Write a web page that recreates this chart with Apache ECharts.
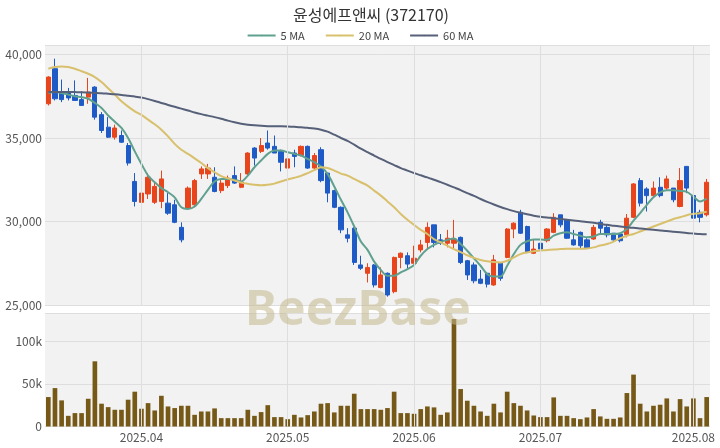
<!DOCTYPE html>
<html><head><meta charset="utf-8">
<script src="https://cdn.jsdelivr.net/npm/echarts@6/dist/echarts.min.js"></script>
<style>html,body{margin:0;padding:0;background:#fff}#c{width:720px;height:448px}</style>
</head><body><div id="c"></div>
<script>
const dates = [
'2025-03-12','2025-03-13','2025-03-14','2025-03-17','2025-03-18','2025-03-19','2025-03-20','2025-03-21','2025-03-24','2025-03-25','2025-03-26','2025-03-27','2025-03-28','2025-03-31',
'2025-04-01','2025-04-02','2025-04-03','2025-04-04','2025-04-07','2025-04-08','2025-04-09','2025-04-10','2025-04-11','2025-04-14','2025-04-15','2025-04-16','2025-04-17','2025-04-18','2025-04-21','2025-04-22','2025-04-23','2025-04-24','2025-04-25','2025-04-28','2025-04-29','2025-04-30',
'2025-05-02','2025-05-07','2025-05-08','2025-05-09','2025-05-12','2025-05-13','2025-05-14','2025-05-15','2025-05-16','2025-05-19','2025-05-20','2025-05-21','2025-05-22','2025-05-23','2025-05-26','2025-05-27','2025-05-28','2025-05-29','2025-05-30',
'2025-06-02','2025-06-04','2025-06-05','2025-06-09','2025-06-10','2025-06-11','2025-06-12','2025-06-13','2025-06-16','2025-06-17','2025-06-18','2025-06-19','2025-06-20','2025-06-23','2025-06-24','2025-06-25','2025-06-26','2025-06-27','2025-06-30',
'2025-07-01','2025-07-02','2025-07-03','2025-07-04','2025-07-07','2025-07-08','2025-07-09','2025-07-10','2025-07-11','2025-07-14','2025-07-15','2025-07-16','2025-07-17','2025-07-18','2025-07-21','2025-07-22','2025-07-23','2025-07-24','2025-07-25','2025-07-28','2025-07-29','2025-07-30','2025-07-31',
'2025-08-01','2025-08-04','2025-08-05'];
const monthStarts = ['2025-04-01','2025-05-02','2025-06-02','2025-07-01','2025-08-01'];

const opens = [
37050,39150,37750,37750,37550,37300,37450,38050,36400,35650,
35050,35150,34550,32400,31150,31650,31150,31200,31100,31000,
29650,30800,31000,32850,32850,32650,31850,32150,32750,32050,
32850,34400,34200,34700,34500,34200,33200,34100,33950,34500,
33200,34300,32900,31850,30850,29200,29600,27400,26900,27400,
26050,26900,25800,27850,27950,27500,28300,28750,29800,28900,
28700,28700,29050,27650,27400,26550,26900,26200,27500,27850,
29550,30550,29700,28100,28700,28850,29350,30400,30100,28900,
29350,28900,28950,29950,29650,29300,29250,29200,30250,32450,
31950,31550,32050,32000,32000,30900,33300,31550,30550,30400];
const closes = [
38650,37350,37300,37400,37250,36950,37750,36250,35450,35050,
35600,34750,33500,31200,31700,32650,32100,32550,30500,29950,
28900,32000,32450,33150,33200,31800,32300,32600,32300,32350,
34100,33800,34550,34400,34100,33550,33750,33900,34500,33200,
33950,32450,31700,30850,29500,29000,27550,27200,27250,26200,
26800,25600,27850,28100,27450,27800,28600,29650,28750,28700,
29000,28950,27550,26800,26450,26300,26250,27700,26600,29550,
29900,29300,28150,28350,28350,29550,30250,29800,29000,28600,
28550,28400,29650,29600,29200,28900,28850,30200,32250,31100,
31550,32000,31550,32550,31300,32450,32000,30200,30250,32350];
const lows = [
36950,37250,37150,37250,37250,36950,37050,36100,35300,35000,
34900,34700,33350,30900,31050,31350,31050,30800,30400,29900,
28750,30700,30850,32550,32550,31750,31700,32000,32250,32000,
32750,33350,34100,34300,34100,33000,32900,33250,33900,33150,
33150,32350,31150,30800,29300,28750,27400,27100,26350,26050,
26000,25500,25700,27200,27200,27500,28150,28400,28450,28600,
28450,28400,27450,26500,26300,26250,26050,26150,26450,27800,
29000,29250,28100,28050,28300,28750,29300,29650,28950,28550,
28400,28350,28900,29300,29050,28850,28750,29050,30200,30900,
30600,31500,31450,31850,31150,30850,31700,30150,29950,30300];
const highs = [
38700,39750,38500,38000,38450,37800,38600,38100,36550,36250,
35800,35450,34700,32900,32100,32900,32350,33050,31700,31300,
29950,32100,32550,33300,33450,33250,32550,32750,33300,32900,
34150,34450,35000,35450,35150,34300,33850,34300,34550,34550,
34100,34450,32900,31900,30900,29600,29650,27950,27500,27450,
27250,26950,27900,28150,28150,28550,28900,29950,29800,29250,
29500,30100,29100,27700,27550,27100,26950,28000,27550,29600,
29950,30700,29750,28950,29300,29600,30500,30400,30100,29500,
29400,29000,29800,30100,29800,29300,29300,30450,32300,32600,
32050,32400,32650,32750,32000,33200,33300,31600,30700,32550];
const volumes = [
34500,45000,30600,12500,15700,15700,32500,76400,26700,22700,
19600,19600,31400,40800,20800,27400,18800,36000,23500,21600,
24300,24300,13700,17600,17600,21200,9800,9800,9800,9800,
19600,12500,16900,25000,11000,11000,8600,13700,10600,13300,
17600,26700,27400,16500,24300,24300,38400,20400,20400,20400,
19600,21600,40800,15700,15700,14900,20400,23500,22400,13700,
16500,126000,43900,30200,24300,17600,12500,26700,16500,40800,
27400,24300,18800,12900,11000,11000,34100,12500,12500,9800,
8600,10600,20400,11800,9000,9000,10600,39200,60800,26700,
17600,24300,25500,32900,17600,32100,23500,32900,9800,34500];
const ma5 = [
37700,37750,37700,37600,37500,37450,37350,37100,36800,36350,
35980,35600,35000,34200,33450,32750,32350,32000,31750,31450,
30850,30750,30900,31350,31900,32400,32550,32550,32500,32400,
32750,33250,33650,34050,34250,34250,34150,34050,33950,33750,
33550,33300,32850,32100,31300,30550,29700,28800,28300,27600,
27100,26750,26750,26950,27150,27400,27950,28350,28600,28780,
28900,28980,28650,28250,27800,27350,26850,26700,26700,27350,
28050,28600,28820,28920,28920,28900,29150,29300,29350,29250,
29150,29050,29100,29250,29250,29250,29300,29550,30050,30500,
31000,31450,31750,31870,31870,31830,31770,31500,31200,31370];
const ma20 = [
39150,39250,39280,39250,39150,39000,38850,38650,38350,37980,
37600,37200,36880,36600,36380,36100,35820,35500,35100,34650,
34300,34050,33780,33500,33200,32950,32720,32580,32450,32330,
32260,32200,32170,32200,32270,32400,32520,32620,32730,32900,
33080,33250,33200,33050,32870,32750,32550,32350,32150,31850,
31550,31200,30850,30450,30100,29800,29500,29250,28950,28750,
28550,28350,28170,27980,27820,27700,27620,27570,27550,27650,
27850,28050,28150,28220,28260,28300,28330,28350,28370,28370,
28370,28380,28450,28560,28650,28800,29000,29150,29250,29400,
29550,29700,29850,30000,30150,30250,30380,30450,30500,30580];
const ma60 = [
37750,37760,37760,37760,37750,37740,37720,37700,37680,37650,
37620,37580,37530,37480,37420,37330,37220,37100,36980,36870,
36760,36650,36530,36430,36340,36250,36150,36040,35940,35860,
35800,35760,35730,35710,35700,35700,35690,35670,35640,35610,
35570,35500,35380,35200,35000,34830,34600,34360,34150,33950,
33750,33560,33380,33200,33050,32900,32770,32640,32500,32360,
32200,32040,31880,31700,31530,31350,31180,31020,30870,30740,
30620,30520,30430,30350,30290,30240,30200,30150,30100,30060,
30020,29970,29920,29860,29800,29750,29700,29650,29620,29580,
29540,29500,29460,29430,29390,29350,29310,29280,29250,29230];

const UP = '#e8451d', DOWN = '#1f5bc6';
const FONT = '"Noto Sans CJK KR", "Noto Sans", sans-serif';
const chart = echarts.init(document.getElementById('c'), null, {renderer: 'canvas'});
const vline = (xi, yi) => ({
  type: 'line', xAxisIndex: xi, yAxisIndex: yi, data: [], silent: true, z: 1,
  markLine: {silent: true, symbol: ['none', 'none'], label: {show: false},
    lineStyle: {color: '#dedede', width: 1, type: 'solid'},
    data: monthStarts.map(d => ({xAxis: d})), animation: false}
});
chart.setOption({
  animation: false,
  backgroundColor: '#ffffff',
  title: {text: '윤성에프앤씨 (372170)', left: 288, top: 2,
    textStyle: {fontFamily: FONT, fontSize: 16, fontWeight: 'normal', color: '#333'}},
  legend: {top: 25, left: 'center', itemWidth: 28, itemHeight: 2, itemGap: 20,
    data: ['5 MA', '20 MA', '60 MA'],
    textStyle: {fontFamily: FONT, fontSize: 11, color: '#444'}},
  grid: [
    {left: 45, right: 10, top: 45, height: 260, show: true, backgroundColor: '#f2f2f2', borderWidth: 0},
    {left: 45, right: 10, top: 313, height: 113.5, show: true, backgroundColor: '#f2f2f2', borderWidth: 0}
  ],
  xAxis: [
    {type: 'category', gridIndex: 0, data: dates, boundaryGap: true,
      axisLine: {show: false}, axisTick: {show: false}, axisLabel: {show: false}, splitLine: {show: false}},
    {type: 'category', gridIndex: 1, data: dates, boundaryGap: true,
      axisLine: {show: false}, axisTick: {show: false}, splitLine: {show: false},
      axisLabel: {interval: (i, v) => monthStarts.includes(v), formatter: v => v.slice(0, 7).replace('-', '.'),
        fontFamily: FONT, fontSize: 12, color: '#555', margin: 5}}
  ],
  yAxis: [
    {type: 'value', gridIndex: 0, min: 25000, max: 40570, interval: 5000,
      axisLine: {show: false}, axisTick: {show: false},
      axisLabel: {formatter: v => v % 5000 === 0 ? v.toLocaleString('en-US') : '', fontFamily: FONT, fontSize: 12, color: '#555', margin: 3},
      splitLine: {lineStyle: {color: '#dedede'}}},
    {type: 'value', gridIndex: 1, min: 0, max: 133000, interval: 50000,
      axisLine: {show: false}, axisTick: {show: false},
      axisLabel: {formatter: v => v % 50000 === 0 ? (v === 0 ? '0' : (v / 1000) + 'k') : '', fontFamily: FONT, fontSize: 12, color: '#555', margin: 3},
      splitLine: {lineStyle: {color: '#dedede'}}}
  ],
  graphic: [{type: 'text', x: 358, y: 311, z: 100, silent: true,
    style: {text: 'BeezBase', font: 'bold 48px "Noto Sans", sans-serif', fill: 'rgba(196,184,140,0.55)', align: 'center', verticalAlign: 'middle'}}],
  series: [
    vline(0, 0), vline(1, 1),
    {type: 'candlestick', xAxisIndex: 0, yAxisIndex: 0, barWidth: '70%', z: 3,
      data: dates.map((d, i) => [opens[i], closes[i], lows[i], highs[i]]),
      itemStyle: {color: UP, color0: DOWN, borderColor: UP, borderColor0: DOWN, borderWidth: 1}},
    {name: '5 MA', type: 'line', xAxisIndex: 0, yAxisIndex: 0, data: ma5, symbol: 'none', smooth: 0.3, z: 4,
      lineStyle: {color: '#5fa08f', width: 2}, itemStyle: {color: '#5fa08f'}},
    {name: '20 MA', type: 'line', xAxisIndex: 0, yAxisIndex: 0, data: ma20, symbol: 'none', smooth: 0.3, z: 4,
      lineStyle: {color: '#d8c06c', width: 2}, itemStyle: {color: '#d8c06c'}},
    {name: '60 MA', type: 'line', xAxisIndex: 0, yAxisIndex: 0, data: ma60, symbol: 'none', smooth: 0.3, z: 4,
      lineStyle: {color: '#566079', width: 2}, itemStyle: {color: '#566079'}},
    {type: 'bar', xAxisIndex: 1, yAxisIndex: 1, data: volumes, barWidth: '70%', z: 3,
      itemStyle: {color: '#765917'}}
  ]
});
</script></body></html>
